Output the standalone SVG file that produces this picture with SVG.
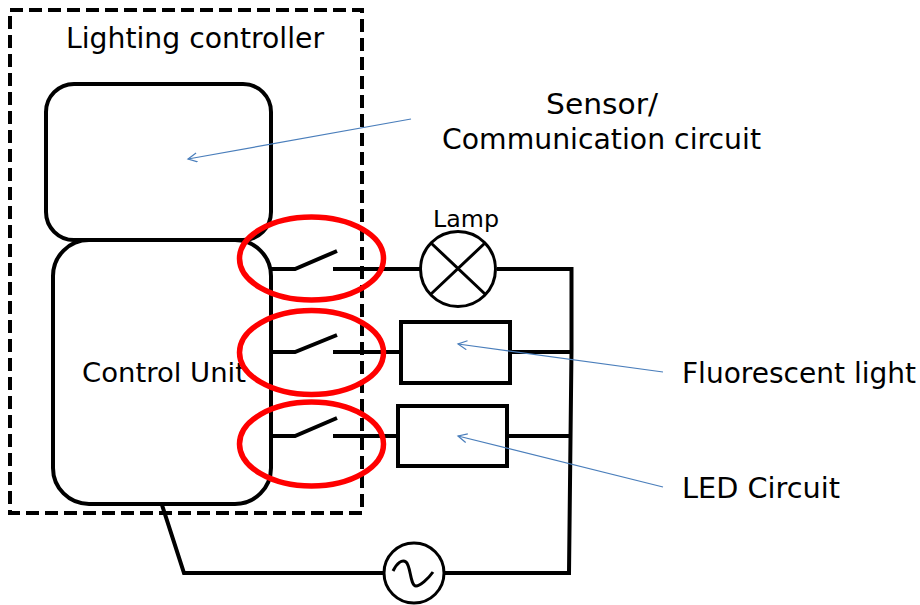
<svg xmlns="http://www.w3.org/2000/svg" width="920" height="605" viewBox="0 0 920 605">
<style>
.w{fill:none;stroke:#000;stroke-width:4}
.t{fill:none;stroke:#000;stroke-width:3}
.b{fill:#fff;stroke:#000;stroke-width:4}
.r{fill:none;stroke:#f00;stroke-width:5.500}
.n{fill:none;stroke:#4a7ebb;stroke-width:1.200;marker-end:url(#a)}
text{font-family:"DejaVu Sans",sans-serif;font-size:29px;fill:#000}
</style>
<defs><marker id="a" markerUnits="userSpaceOnUse" markerWidth="12" markerHeight="12" refX="10" refY="5" orient="auto"><path d="M1 0.5L10 5L1 9.500" fill="none" stroke="#4a7ebb" stroke-width="1.200"/></marker></defs>
<rect width="920" height="605" fill="#fff"/>
<g id="lighting-controller"><rect x="10" y="10" width="352" height="503" fill="none" stroke="#000" stroke-width="4" stroke-dasharray="13 6"/><text x="66" y="48" textLength="258" lengthAdjust="spacingAndGlyphs">Lighting controller</text></g>
<g id="sensor-circuit"><rect class="w" x="46" y="84" width="225" height="156" rx="28"/></g>
<g id="control-unit"><rect class="w" x="53" y="240" width="218" height="264" rx="36"/><text x="82" y="382" textLength="164" lengthAdjust="spacingAndGlyphs" style="font-size:27px">Control Unit</text></g>
<g id="connectors">
<path class="w" d="M271 269H295L337 251M333 269H420M271 352H295L337 335M333 352H400M271 436H295L337 418M333 436H398"/>
<path class="w" d="M497 269H571.500V350M510 352H571M507 436H570M571.500 350L569 573H445M383 573H184L162 505"/>
</g>
<g id="lamp"><circle class="t" cx="458" cy="269" r="37.500" fill="#fff"/><path class="t" d="M431 243L485 294M485 243L431 294"/><text x="433" y="227" textLength="66" lengthAdjust="spacingAndGlyphs" style="font-size:23px">Lamp</text></g>
<g id="fluorescent-light"><rect class="b" x="401" y="322" width="109" height="61"/></g>
<g id="led-circuit"><rect class="b" x="398" y="406" width="109" height="60"/></g>
<g id="ac-source"><circle class="t" cx="414" cy="573" r="30" fill="#fff"/><path class="t" d="M393 571C397 563 402 559 406 562C411 566 410 586 416 586C420 586 428 579 433 572"/></g>
<g id="highlight-1"><ellipse class="r" cx="311.500" cy="258.500" rx="72" ry="41.500"/></g>
<g id="highlight-2"><ellipse class="r" cx="311.500" cy="352.500" rx="72" ry="42"/></g>
<g id="highlight-3"><ellipse class="r" cx="311.500" cy="444" rx="72" ry="42"/></g>
<g id="callouts">
<path class="n" d="M411 119L188 159"/><path class="n" d="M663 372L458 344"/><path class="n" d="M663 487L458 436"/>
<text x="546" y="114" textLength="112" lengthAdjust="spacingAndGlyphs">Sensor/</text>
<text x="442" y="149" textLength="319" lengthAdjust="spacingAndGlyphs">Communication circuit</text>
<text x="682" y="383" textLength="234" lengthAdjust="spacingAndGlyphs" style="font-size:28px">Fluorescent light</text>
<text x="682" y="498" textLength="158" lengthAdjust="spacingAndGlyphs">LED Circuit</text>
</g>
</svg>
